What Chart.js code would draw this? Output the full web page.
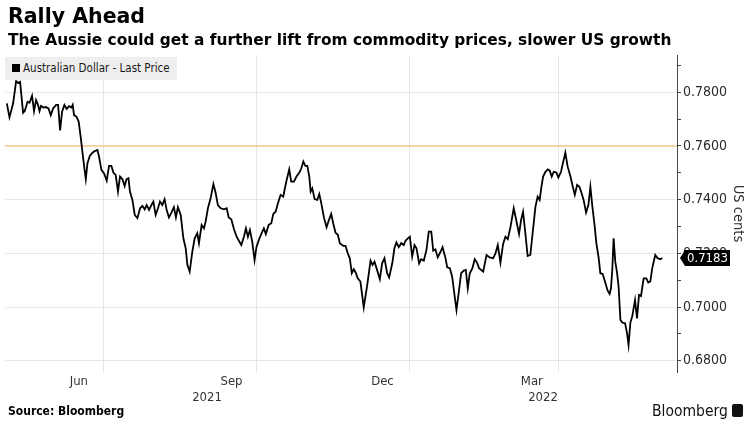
<!DOCTYPE html>
<html>
<head>
<meta charset="utf-8">
<script src="https://cdn.jsdelivr.net/npm/chart.js@4.4.0/dist/chart.umd.min.js"></script>
<style>
  html, body { margin: 0; padding: 0; background: #fff; }
  body {
    width: 750px; height: 431px; position: relative; overflow: hidden;
    font-family: 'DejaVu Sans Condensed', 'DejaVu Sans', sans-serif; color: #000;
  }
  #chart { position: absolute; left: 0; top: 0; }
  .title { position: absolute; left: 8px; top: 4px; font-family: 'DejaVu Sans', sans-serif; font-size: 20.5px; font-weight: bold; }
  .subtitle { position: absolute; left: 8px; top: 31px; font-family: 'DejaVu Sans', sans-serif; font-size: 15.4px; font-weight: bold; }
  .legend {
    position: absolute; left: 5px; top: 57px; height: 23px; padding: 0 7px 0 7px;
    background: #eeeeee; font-size: 11.5px; line-height: 23px; color: #1a1a1a;
  }
  .legend i { display: inline-block; width: 8px; height: 8px; background: #000; margin-right: 3px; }
  .source { position: absolute; left: 8px; top: 404px; font-size: 12px; font-weight: bold; }
  .brand { position: absolute; left: 652px; top: 402px; font-size: 15.5px; color: #111; }
  .brand b {
    display: inline-block; width: 11px; height: 13px; background: #111; border-radius: 2px;
    margin-left: 4px; vertical-align: -1px;
  }
</style>
</head>
<body>
<canvas id="chart" width="750" height="431"></canvas>
<div class="title">Rally Ahead</div>
<div class="subtitle">The Aussie could get a further lift from commodity prices, slower US growth</div>
<div class="legend"><i></i>Australian Dollar - Last Price</div>
<div class="source">Source: Bloomberg</div>
<div class="brand">Bloomberg<b></b></div>

<script>
// days since 2021-05-01
const days = [
  2.6, 4.2, 6.4, 8.2, 9.4, 10.6, 12.4, 13.4, 15.1, 16.3,
  17.8, 19.0, 20.2, 21.3, 22.3, 23.2, 24.7, 26.1, 27.7, 29.1,
  30.5, 32.3, 33.5, 34.7, 35.9, 37.3, 38.7, 40.1, 41.5, 42.3,
  43.1, 44.6, 45.9, 47.2, 49.1, 50.2, 51.2, 52.6, 54.2, 55.6,
  57.2, 58.2, 59.6, 61.2, 62.8, 64.2, 65.6, 66.8, 68.2, 69.6,
  70.8, 72.3, 73.6, 74.7, 75.9, 76.8, 78.3, 79.7, 81.3, 82.9,
  84.3, 85.7, 86.9, 88.3, 89.7, 90.9, 92.3, 93.7, 94.9, 96.3,
  97.7, 98.9, 100.3, 101.8, 103.3, 104.5, 105.7, 107.4, 109.0, 110.4,
  111.4, 112.8, 114.4, 115.8, 117.4, 118.4, 120.0, 121.4, 122.4, 123.8,
  125.4, 127.1, 128.5, 129.8, 131.5, 133.5, 135.1, 136.3, 137.9, 139.5,
  141.1, 142.7, 143.9, 145.5, 146.7, 147.9, 149.1, 150.5, 151.9, 153.1,
  154.8, 156.3, 157.5, 158.7, 160.4, 162.0, 163.2, 164.6, 166.0, 167.6,
  169.2, 170.8, 172.8, 174.0, 175.6, 177.2, 178.9, 180.1, 181.3, 182.5,
  183.7, 184.9, 185.7, 186.7, 188.1, 189.7, 190.9, 192.1, 193.7, 195.3,
  196.7, 198.1, 199.3, 200.7, 202.1, 203.3, 205.4, 206.7, 208.1, 209.3,
  210.5, 211.7, 212.9, 214.1, 215.7, 217.7, 219.8, 221.8, 223.0, 224.2,
  225.4, 227.4, 228.8, 230.2, 231.8, 233.0, 234.9, 236.2, 237.4, 238.8,
  240.3, 241.8, 242.9, 244.3, 245.5, 246.9, 248.3, 249.5, 251.1, 252.3,
  253.9, 255.5, 256.9, 258.4, 259.6, 260.9, 262.3, 264.0, 265.2, 267.0,
  268.0, 269.6, 271.0, 272.4, 273.6, 275.0, 276.4, 278.0, 279.2, 280.4,
  281.6, 283.2, 284.6, 286.0, 287.2, 289.7, 291.7, 293.6, 295.7, 297.1,
  298.5, 300.1, 301.7, 303.1, 304.5, 306.1, 308.1, 309.5, 311.3, 312.5,
  313.7, 314.9, 316.5, 318.1, 319.8, 321.2, 322.5, 323.7, 324.8, 325.8,
  327.2, 328.6, 329.8, 331.0, 332.2, 333.8, 335.0, 336.6, 337.8, 339.2,
  340.6, 342.3, 343.7, 344.9, 346.3, 347.7, 348.9, 350.2, 351.7, 353.1,
  354.3, 355.5, 356.7, 357.9, 359.3, 360.3, 361.7, 363.1, 364.7, 365.9,
  366.7, 367.5, 368.3, 369.3, 370.4, 371.3, 372.4, 373.6, 375.2, 376.4,
  377.3, 378.4, 379.6, 381.2, 382.4, 383.6, 384.8, 386.4, 388.0, 389.2,
  390.4, 391.6, 393.4, 394.8, 396.4, 397.6
];

const audUsd = [
  0.7759, 0.7707, 0.7759, 0.7842, 0.7835, 0.7839, 0.7724, 0.7730, 0.7765, 0.7761,
  0.7787, 0.7730, 0.7771, 0.7755, 0.7730, 0.7749, 0.7743, 0.7745, 0.7740, 0.7715,
  0.7740, 0.7753, 0.7753, 0.7658, 0.7728, 0.7753, 0.7738, 0.7748, 0.7743, 0.7753,
  0.7715, 0.7709, 0.7691, 0.7629, 0.7529, 0.7477, 0.7536, 0.7563, 0.7575, 0.7581,
  0.7585, 0.7560, 0.7511, 0.7498, 0.7471, 0.7526, 0.7526, 0.7501, 0.7492, 0.7430,
  0.7486, 0.7476, 0.7451, 0.7476, 0.7480, 0.7430, 0.7399, 0.7343, 0.7331, 0.7368,
  0.7377, 0.7364, 0.7380, 0.7362, 0.7380, 0.7393, 0.7343, 0.7368, 0.7393, 0.7380,
  0.7402, 0.7362, 0.7334, 0.7352, 0.7372, 0.7334, 0.7372, 0.7343, 0.7256, 0.7219,
  0.7157, 0.7132, 0.7206, 0.7256, 0.7275, 0.7238, 0.7306, 0.7293, 0.7318, 0.7368,
  0.7405, 0.7458, 0.7424, 0.7380, 0.7368, 0.7364, 0.7368, 0.7334, 0.7327, 0.7290,
  0.7262, 0.7244, 0.7231, 0.7262, 0.7293, 0.7262, 0.7287, 0.7244, 0.7175, 0.7225,
  0.7255, 0.7277, 0.7293, 0.7272, 0.7306, 0.7312, 0.7347, 0.7355, 0.7387, 0.7418,
  0.7411, 0.7461, 0.7513, 0.7467, 0.7467, 0.7486, 0.7501, 0.7517, 0.7542, 0.7526,
  0.7526, 0.7486, 0.7430, 0.7442, 0.7402, 0.7399, 0.7421, 0.7387, 0.7334, 0.7297,
  0.7324, 0.7347, 0.7312, 0.7277, 0.7269, 0.7238, 0.7228, 0.7228, 0.7200, 0.7182,
  0.7126, 0.7141, 0.7128, 0.7107, 0.7095, 0.6999, 0.7082, 0.7173, 0.7157, 0.7169,
  0.7145, 0.7104, 0.7163, 0.7182, 0.7126, 0.7110, 0.7163, 0.7219, 0.7241, 0.7223,
  0.7238, 0.7231, 0.7247, 0.7256, 0.7262, 0.7188, 0.7231, 0.7219, 0.7163, 0.7178,
  0.7173, 0.7213, 0.7281, 0.7281, 0.7210, 0.7215, 0.7185, 0.7206, 0.7223, 0.7182,
  0.7148, 0.7145, 0.7113, 0.7045, 0.6989, 0.7057, 0.7126, 0.7136, 0.7138, 0.7070,
  0.7126, 0.7145, 0.7178, 0.7165, 0.7145, 0.7132, 0.7194, 0.7185, 0.7182, 0.7200,
  0.7231, 0.7165, 0.7235, 0.7262, 0.7253, 0.7297, 0.7368, 0.7327, 0.7272, 0.7324,
  0.7355, 0.7287, 0.7190, 0.7194, 0.7293, 0.7374, 0.7411, 0.7399, 0.7448, 0.7486,
  0.7504, 0.7513, 0.7508, 0.7486, 0.7504, 0.7501, 0.7483, 0.7504, 0.7538, 0.7575,
  0.7523, 0.7486, 0.7448, 0.7418, 0.7455, 0.7448, 0.7426, 0.7399, 0.7352, 0.7380,
  0.7448, 0.7374, 0.7312, 0.7238, 0.7182, 0.7126, 0.7123, 0.7095, 0.7061, 0.7049,
  0.7070, 0.7138, 0.7256, 0.7169, 0.7126, 0.7076, 0.6952, 0.6942, 0.6940, 0.6902,
  0.6859, 0.6942, 0.6967, 0.7026, 0.6958, 0.7045, 0.7041, 0.7107, 0.7107, 0.7091,
  0.7095, 0.7145, 0.7194, 0.7182, 0.7178, 0.7183
];

const monthLabels = ['Jun', 'Sep', 'Dec', 'Mar'];
const monthMids = ['2021-06-16', '2021-09-16', '2021-12-16', '2022-03-16'];
const gridDates = ['2021-07-01', '2021-10-01', '2022-01-01', '2022-04-01'];
const yearLabels = ['2021', '2022'];
const refLevel = 0.76;

const X_MIN = 1.5, X_MAX = 406.5;
const Y_MIN = 0.6758, Y_MAX = 0.7939;

function dayOf(iso) {
  const [y, m, d] = iso.split('-').map(Number);
  return (Date.UTC(y, m - 1, d) - Date.UTC(2021, 4, 1)) / 86400000;
}

// year labels sit in the middle of each year's share of the axis
const yearMids = [(X_MIN + dayOf('2022-01-01')) / 2, (dayOf('2022-01-01') + X_MAX) / 2];

Chart.defaults.font.family = "'DejaVu Sans Condensed', 'DejaVu Sans', sans-serif";
Chart.defaults.color = '#333';

const gridColor = '#e6e6e6';

const lastValueTag = {
  id: 'lastValueTag',
  afterDraw(chart) {
    const y = chart.scales.y;
    const v = audUsd[audUsd.length - 1];
    const py = y.getPixelForValue(v);
    const ctx = chart.ctx;
    const x0 = y.left + 3, h = 16, w = 45;
    ctx.save();
    ctx.fillStyle = '#000';
    ctx.beginPath();
    ctx.moveTo(x0, py);
    ctx.lineTo(x0 + 5, py - h / 2);
    ctx.lineTo(x0 + 5 + w, py - h / 2);
    ctx.lineTo(x0 + 5 + w, py + h / 2);
    ctx.lineTo(x0 + 5, py + h / 2);
    ctx.closePath();
    ctx.fill();
    ctx.fillStyle = '#fff';
    ctx.font = "13px 'DejaVu Sans Condensed', 'DejaVu Sans', sans-serif";
    ctx.textBaseline = 'middle';
    ctx.fillText(v.toFixed(4), x0 + 7, py + 1);
    ctx.restore();
  }
};

new Chart(document.getElementById('chart'), {
  type: 'line',
  data: {
    datasets: [
      {
        data: days.map((d, i) => ({ x: d, y: audUsd[i] })),
        borderColor: '#000',
        borderWidth: 1.8,
        pointRadius: 0,
        tension: 0,
        order: 1,
      },
      {
        data: [{ x: X_MIN, y: refLevel }, { x: X_MAX, y: refLevel }],
        borderColor: '#f4b860',
        borderWidth: 1.2,
        pointRadius: 0,
        order: 2,
      },
    ],
  },
  options: {
    responsive: false,
    animation: false,
    layout: { padding: { top: 55, left: 5, right: 0, bottom: 0 } },
    plugins: { legend: { display: false }, tooltip: { enabled: false } },
    scales: {
      x: {
        type: 'linear', min: X_MIN, max: X_MAX, position: 'bottom',
        afterBuildTicks: (s) => { s.ticks = gridDates.map((d) => ({ value: dayOf(d) })); },
        ticks: { display: false },
        grid: { color: gridColor, drawTicks: false },
        border: { display: false },
        afterFit: (s) => { s.height = 0; },
      },
      xm: {
        type: 'linear', min: X_MIN, max: X_MAX, position: 'bottom',
        afterBuildTicks: (s) => { s.ticks = monthMids.map((d) => ({ value: dayOf(d) })); },
        ticks: {
          callback: (v, i) => monthLabels[i],
          autoSkip: false, maxRotation: 0, padding: 2,
          font: { size: 13 }, color: '#333',
        },
        grid: { display: false, drawTicks: false },
        border: { display: false },
        afterFit: (s) => { s.height = 18; },
      },
      xy: {
        type: 'linear', min: X_MIN, max: X_MAX, position: 'bottom',
        afterBuildTicks: (s) => { s.ticks = yearMids.map((d) => ({ value: d })); },
        ticks: {
          callback: (v, i) => yearLabels[i],
          autoSkip: false, maxRotation: 0, padding: 0,
          font: { size: 13 }, color: '#333',
        },
        grid: { display: false, drawTicks: false },
        border: { display: false },
        afterFit: (s) => { s.height = 41; },
      },
      y: {
        position: 'right', min: Y_MIN, max: Y_MAX,
        afterBuildTicks: (s) => {
          const t = [];
          for (let k = 68; k <= 79; k++) t.push({ value: k / 100 });
          s.ticks = t;
        },
        ticks: {
          callback: (v) => (Math.round(v * 100) % 2 === 0 ? v.toFixed(4) : ''),
          font: { size: 14 }, color: '#2a2a2a', padding: 2,
        },
        grid: {
          color: (c) => (c.tick && Math.round(c.tick.value * 100) % 2 === 0 ? gridColor : 'rgba(0,0,0,0)'),
          tickColor: '#444', tickLength: 4,
        },
        border: { color: '#444' },
        title: {
          display: true, text: 'US cents', color: '#333',
          font: { size: 14.5 }, padding: { top: 4 },
        },
        afterFit: (s) => { s.width = 73; },
      },
    },
  },
  plugins: [lastValueTag],
});
</script>
</body>
</html>
